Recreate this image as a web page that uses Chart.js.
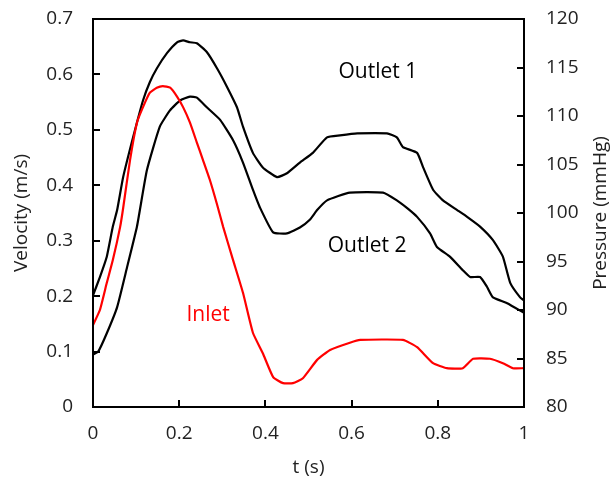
<!DOCTYPE html>
<html>
<head>
<meta charset="utf-8">
<script src="https://cdn.jsdelivr.net/npm/chart.js@4.4.1/dist/chart.umd.min.js"></script>
<style>
  body { margin: 0; background: #fff; }
  #wrap { width: 613px; height: 483px; }
</style>
</head>
<body>
<div id="wrap"><canvas id="chart" width="613" height="483"></canvas></div>
<script>
// Inlet velocity (m/s), left axis
var inletT = [0, 0.016, 0.032, 0.046, 0.063, 0.07, 0.086, 0.102, 0.116, 0.132, 0.148, 0.162, 0.179, 0.195, 0.209, 0.225, 0.241, 0.255, 0.271, 0.288, 0.302, 0.325, 0.348, 0.371, 0.394, 0.418, 0.441, 0.464, 0.487, 0.52, 0.55, 0.596, 0.62, 0.719, 0.752, 0.789, 0.821, 0.858, 0.882, 0.921, 0.951, 0.974, 1.0];
var inletV = [0.148, 0.175, 0.224, 0.265, 0.325, 0.359, 0.446, 0.513, 0.541, 0.567, 0.576, 0.579, 0.576, 0.56, 0.541, 0.513, 0.477, 0.446, 0.41, 0.365, 0.325, 0.265, 0.206, 0.134, 0.097, 0.054, 0.043, 0.043, 0.052, 0.085, 0.103, 0.116, 0.121, 0.121, 0.108, 0.079, 0.07, 0.07, 0.087, 0.087, 0.079, 0.07, 0.07];

// Outlet pressures (mmHg), right axis
var outlet1T = [0, 0.016, 0.032, 0.046, 0.056, 0.07, 0.093, 0.116, 0.132, 0.148, 0.172, 0.195, 0.209, 0.225, 0.241, 0.264, 0.288, 0.311, 0.334, 0.348, 0.371, 0.394, 0.427, 0.45, 0.48, 0.51, 0.543, 0.573, 0.613, 0.682, 0.705, 0.719, 0.752, 0.766, 0.789, 0.812, 0.845, 0.868, 0.898, 0.928, 0.951, 0.968, 0.991, 1.0];
var outlet1P = [91.5, 93.4, 95.5, 98.6, 100.3, 103.7, 107.8, 111.6, 113.5, 114.9, 116.5, 117.6, 117.8, 117.6, 117.5, 116.6, 114.9, 113.0, 110.9, 108.9, 106.2, 104.7, 103.7, 104.1, 105.2, 106.2, 107.8, 108.0, 108.2, 108.2, 107.8, 106.8, 106.2, 104.7, 102.4, 101.3, 100.3, 99.6, 98.6, 97.2, 95.5, 92.8, 91.3, 91.0];

var outlet2T = [0, 0.012, 0.032, 0.056, 0.079, 0.102, 0.125, 0.155, 0.179, 0.202, 0.225, 0.241, 0.264, 0.295, 0.325, 0.348, 0.371, 0.387, 0.418, 0.45, 0.48, 0.503, 0.52, 0.543, 0.596, 0.673, 0.705, 0.729, 0.752, 0.782, 0.798, 0.828, 0.858, 0.875, 0.898, 0.914, 0.928, 0.961, 1.0];
var outlet2P = [85.4, 85.7, 87.6, 90.3, 94.4, 98.6, 104.4, 108.9, 110.6, 111.6, 112.0, 111.9, 110.9, 109.6, 107.5, 105.2, 102.4, 100.6, 98.0, 97.9, 98.5, 99.3, 100.3, 101.3, 102.1, 102.1, 101.3, 100.5, 99.6, 97.9, 96.5, 95.5, 94.1, 93.4, 93.4, 92.4, 91.3, 90.7, 89.7];

// text labels in data units: [text, t, velocity, colour]
var curveLabels = [
    ["Outlet 1", 0.661, 0.605, "#000000"],
    ["Outlet 2", 0.636, 0.29, "#000000"],
    ["Inlet", 0.267, 0.166, "#ff0000"]
];

var FONT = "'Open Sans', sans-serif";

function toPoints(xs, ys) {
    return xs.map(function(x, i) { return { x: x, y: ys[i] }; });
}

// box frame, inward ticks, axis titles on the sides and curve labels
var decorPlugin = {
    id: "decor",
    afterDraw: function(chart) {
        var ctx = chart.ctx;
        var a = chart.chartArea;
        var sx = chart.scales.x, sy = chart.scales.y, sy2 = chart.scales.y2;
        ctx.save();
        ctx.strokeStyle = "#000";
        ctx.lineWidth = 2;
        ctx.strokeRect(a.left, a.top, a.right - a.left, a.bottom - a.top);
        ctx.beginPath();
        sx.ticks.forEach(function(t) {
            var px = Math.round(sx.getPixelForValue(t.value));
            ctx.moveTo(px, a.bottom); ctx.lineTo(px, a.bottom - 7);
        });
        sy.ticks.forEach(function(t) {
            var py = Math.round(sy.getPixelForValue(t.value));
            ctx.moveTo(a.left, py); ctx.lineTo(a.left + 7, py);
        });
        sy2.ticks.forEach(function(t) {
            var py = Math.round(sy2.getPixelForValue(t.value));
            ctx.moveTo(a.right, py); ctx.lineTo(a.right - 7, py);
        });
        ctx.stroke();
        ctx.restore();

        ctx.save();
        ctx.fillStyle = "#222";
        ctx.font = "19px " + FONT;
        ctx.textAlign = "center";
        ctx.textBaseline = "middle";
        var midY = (a.top + a.bottom) / 2;
        [[22, "Velocity (m/s)"], [601, "Pressure (mmHg)"]].forEach(function(t) {
            ctx.save();
            ctx.translate(t[0], midY);
            ctx.rotate(-Math.PI / 2);
            ctx.fillText(t[1], 0, 0);
            ctx.restore();
        });
        ctx.restore();

        ctx.save();
        ctx.font = "21px " + FONT;
        ctx.textAlign = "center";
        ctx.textBaseline = "middle";
        curveLabels.forEach(function(l) {
            ctx.fillStyle = l[3];
            ctx.fillText(l[0], sx.getPixelForValue(l[1]), sy.getPixelForValue(l[2]));
        });
        ctx.restore();
    }
};

document.addEventListener("DOMContentLoaded", function() {
    var ctx = document.getElementById("chart").getContext("2d");

    var tickFont = { size: 19, family: FONT };

    function noPad(s) { s.paddingTop = 0; s.paddingBottom = 0; }

    new Chart(ctx, {
        type: "line",
        data: {
            datasets: [{
                label: "Inlet",
                data: toPoints(inletT, inletV),
                borderColor: "#ff0000",
                borderWidth: 2.2,
                pointRadius: 0,
                tension: 0.15,
                yAxisID: "y"
            }, {
                label: "Outlet 1",
                data: toPoints(outlet1T, outlet1P),
                borderColor: "#000000",
                borderWidth: 2.2,
                pointRadius: 0,
                tension: 0.15,
                yAxisID: "y2"
            }, {
                label: "Outlet 2",
                data: toPoints(outlet2T, outlet2P),
                borderColor: "#000000",
                borderWidth: 2.2,
                pointRadius: 0,
                tension: 0.15,
                yAxisID: "y2"
            }]
        },
        options: {
            responsive: false,
            animation: false,
            layout: { padding: { top: 19, left: 0, right: 0, bottom: 0 } },
            plugins: {
                legend: { display: false },
                tooltip: { enabled: false }
            },
            scales: {
                x: {
                    type: "linear",
                    min: 0,
                    max: 1,
                    grid: { display: false, drawTicks: false },
                    border: { display: false },
                    ticks: {
                        stepSize: 0.2,
                        padding: 15,
                        color: "#222",
                        font: tickFont,
                        callback: function(v) { return +v.toFixed(1); }
                    },
                    title: {
                        display: true,
                        text: "t (s)",
                        color: "#222",
                        font: tickFont,
                        padding: { top: 4 }
                    },
                    afterFit: function(s) { s.height = 76; s.paddingLeft = 0; s.paddingRight = 0; }
                },
                y: {
                    position: "left",
                    min: 0,
                    max: 0.7,
                    grid: { display: false, drawTicks: false },
                    border: { display: false },
                    ticks: {
                        stepSize: 0.1,
                        padding: 20,
                        color: "#222",
                        font: tickFont,
                        callback: function(v) { return +v.toFixed(1); }
                    },
                    afterFit: function(s) { s.width = 93; noPad(s); }
                },
                y2: {
                    position: "right",
                    min: 80,
                    max: 120,
                    grid: { display: false, drawTicks: false },
                    border: { display: false },
                    ticks: {
                        stepSize: 5,
                        padding: 22,
                        color: "#222",
                        font: tickFont
                    },
                    afterFit: function(s) { s.width = 89; noPad(s); }
                }
            }
        },
        plugins: [decorPlugin]
    });
});
</script>
</body>
</html>
